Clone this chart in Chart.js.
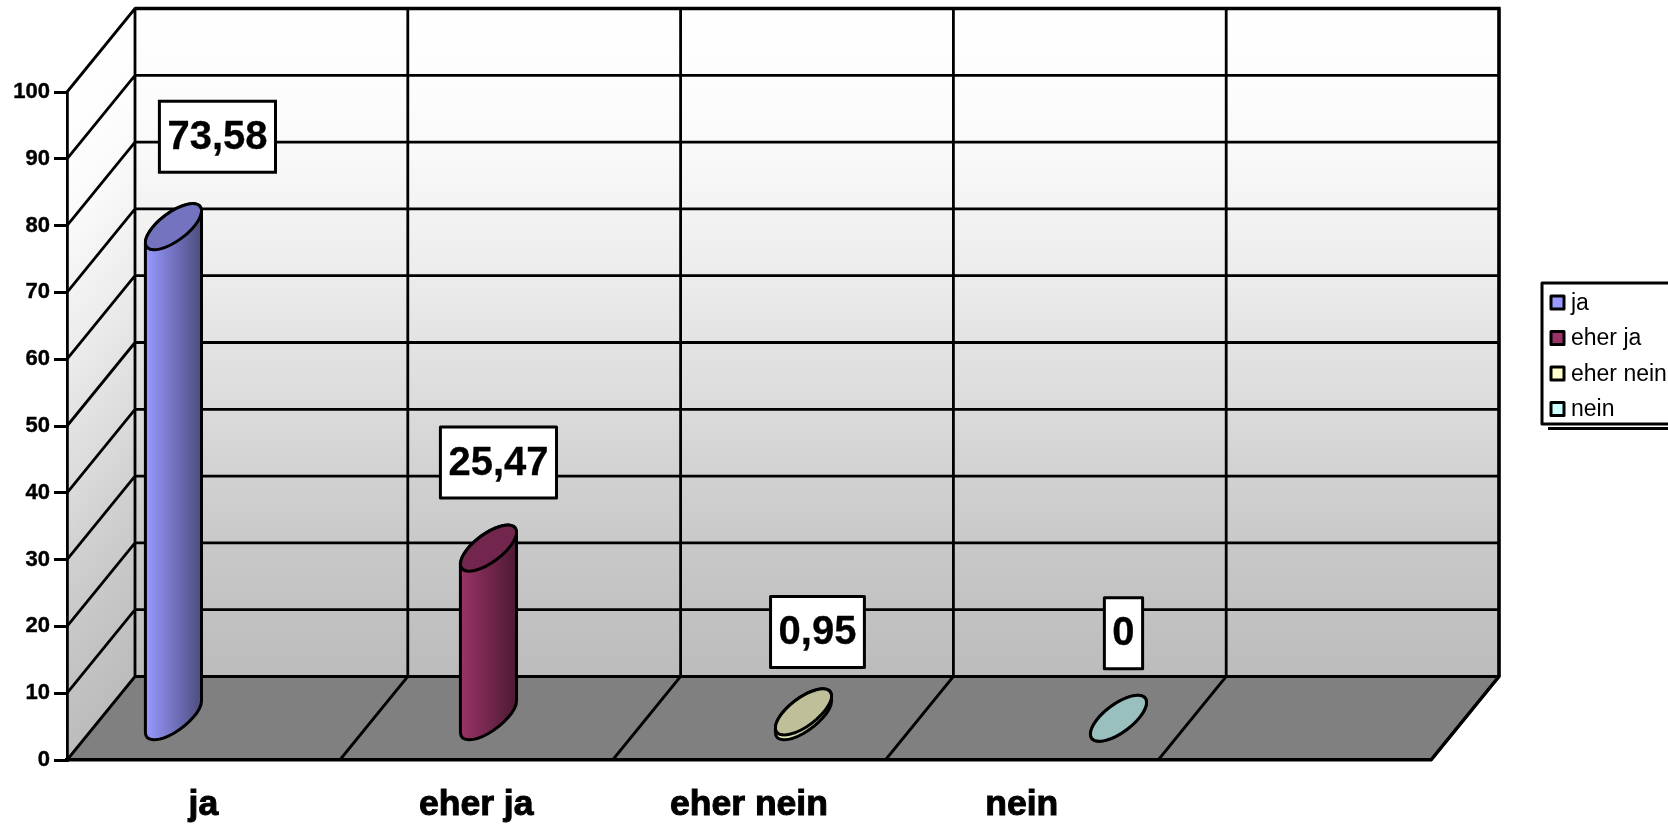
<!DOCTYPE html>
<html>
<head>
<meta charset="utf-8">
<style>html,body{margin:0;padding:0;background:#fff;overflow:hidden}canvas{display:block}</style>
<script src="https://cdn.jsdelivr.net/npm/chart.js@4"></script>
</head>
<body>
<canvas id="c" width="1668" height="826"></canvas>
<script>
const categories = ['ja', 'eher ja', 'eher nein', 'nein', ''];
const seriesNames = ['ja', 'eher ja', 'eher nein', 'nein'];
const seriesValues = [73.58, 25.47, 0.95, 0];
const seriesColors = ['#9999ff', '#993366', '#ffffcc', '#ccffff'];
const yTicks = [0, 10, 20, 30, 40, 50, 60, 70, 80, 90, 100];
// wall grey at each tick level, from 100 down to 0
const wallShades = ['#ffffff', '#fdfdfd', '#fafafa', '#f3f3f3', '#ececec', '#e3e3e3', '#dbdbdb', '#d1d1d1', '#c9c9c9', '#c2c2c2', '#bcbcbc'];

const FONT = '"Liberation Sans", Arial, sans-serif';
const DEPTH_X = 68, DEPTH_Y = -83.5;
const ELL_A = 33.5, ELL_B = 14, ELL_PHI = -37 * Math.PI / 180;
const labelOffsets = [[44, -90], [10, -85.6], [14, -80], [5, -85]];

function shade(hex, f) {
  const n = parseInt(hex.slice(1), 16);
  return 'rgb(' + [n >> 16 & 255, n >> 8 & 255, n & 255].map(v => Math.round(v * f)).join(',') + ')';
}
function addShades(g) {
  wallShades.forEach((c, i) => g.addColorStop(i / (wallShades.length - 1), c));
}

const scene = {
  id: 'scene',
  beforeDraw(chart) {
    const { ctx, scales } = chart, xs = scales.x, ys = scales.y;
    const L = xs.left, R = xs.right, B = ys.bottom, T = ys.top;
    const n = categories.length, step = (R - L) / n;
    ctx.save();
    ctx.fillStyle = '#fff';
    ctx.fillRect(0, 0, chart.width, chart.height);
    // back wall
    const g = ctx.createLinearGradient(0, T + DEPTH_Y, 0, B + DEPTH_Y);
    addShades(g);
    ctx.fillStyle = g;
    ctx.fillRect(L + DEPTH_X, T + DEPTH_Y, R - L, B - T);
    // side wall
    const len = Math.hypot(DEPTH_X, DEPTH_Y), nx = -DEPTH_Y / len, ny = DEPTH_X / len;
    const d = (B - T) * ny;
    const g2 = ctx.createLinearGradient(L, T, L + nx * d, T + ny * d);
    addShades(g2);
    ctx.fillStyle = g2;
    ctx.beginPath();
    ctx.moveTo(L, T); ctx.lineTo(L + DEPTH_X, T + DEPTH_Y);
    ctx.lineTo(L + DEPTH_X, B + DEPTH_Y); ctx.lineTo(L, B);
    ctx.closePath(); ctx.fill();
    // floor
    ctx.fillStyle = '#808080';
    ctx.beginPath();
    ctx.moveTo(L, B); ctx.lineTo(L + DEPTH_X, B + DEPTH_Y);
    ctx.lineTo(R + DEPTH_X, B + DEPTH_Y); ctx.lineTo(R, B);
    ctx.closePath(); ctx.fill();
    // grid
    ctx.strokeStyle = '#000'; ctx.lineWidth = 2.8;
    ctx.beginPath();
    yTicks.forEach(v => {
      const y = ys.getPixelForValue(v);
      ctx.moveTo(L, y); ctx.lineTo(L + DEPTH_X, y + DEPTH_Y);
      ctx.lineTo(R + DEPTH_X, y + DEPTH_Y);
    });
    for (let i = 0; i <= n; i++) {
      const x = L + i * step;
      ctx.moveTo(x, B); ctx.lineTo(x + DEPTH_X, B + DEPTH_Y);
      ctx.lineTo(x + DEPTH_X, T + DEPTH_Y);
    }
    ctx.stroke();
    ctx.lineWidth = 3.4;
    ctx.beginPath();
    ctx.moveTo(L + DEPTH_X, T + DEPTH_Y); ctx.lineTo(R + DEPTH_X, T + DEPTH_Y);
    ctx.lineTo(R + DEPTH_X, B + DEPTH_Y); ctx.lineTo(R, B);
    ctx.stroke();
    ctx.restore();
  },
  beforeDatasetDraw(chart, args) {
    const { ctx } = chart;
    const el = args.meta.data[0];
    const col = chart.data.datasets[args.index].backgroundColor;
    const cx = el.x + DEPTH_X / 2, top = el.y + DEPTH_Y / 2, base = el.base + DEPTH_Y / 2, w = el.width;
    const t0 = Math.atan(-(ELL_B / ELL_A) * Math.tan(ELL_PHI));
    ctx.save();
    const g = ctx.createLinearGradient(cx - w / 2, 0, cx + w / 2, 0);
    g.addColorStop(0, col); g.addColorStop(1, shade(col, 0.5));
    ctx.lineWidth = 3; ctx.strokeStyle = '#000'; ctx.lineJoin = 'round';
    ctx.beginPath();
    ctx.ellipse(cx, base, ELL_A, ELL_B, ELL_PHI, t0, t0 + Math.PI);
    ctx.ellipse(cx, top, ELL_A, ELL_B, ELL_PHI, t0 + Math.PI, t0 + 2 * Math.PI);
    ctx.closePath();
    ctx.fillStyle = g; ctx.fill(); ctx.stroke();
    ctx.beginPath();
    ctx.ellipse(cx, top, ELL_A, ELL_B, ELL_PHI, 0, 2 * Math.PI);
    ctx.fillStyle = shade(col, 0.75); ctx.fill(); ctx.stroke();
    ctx.restore();
    return false;
  },
  afterDatasetsDraw(chart) {
    const { ctx } = chart;
    ctx.save();
    // value labels
    ctx.font = 'bold 40px ' + FONT;
    ctx.textAlign = 'center'; ctx.textBaseline = 'middle';
    chart.data.datasets.forEach((ds, i) => {
      const el = chart.getDatasetMeta(i).data[0];
      const txt = String(seriesValues[i]).replace('.', ',');
      const cx = el.x + DEPTH_X / 2 + labelOffsets[i][0];
      const cy = el.y + DEPTH_Y / 2 + labelOffsets[i][1];
      const bw = ctx.measureText(txt).width + 16, bh = 71;
      ctx.fillStyle = '#fff'; ctx.strokeStyle = '#000'; ctx.lineWidth = 3;
      ctx.fillRect(cx - bw / 2, cy - bh / 2, bw, bh);
      ctx.strokeRect(cx - bw / 2, cy - bh / 2, bw, bh);
      ctx.fillStyle = '#000';
      ctx.lineWidth = 0.3; ctx.lineJoin = 'round';
      ctx.fillText(txt, cx, cy + 1);
      ctx.strokeText(txt, cx, cy + 1);
    });
    // legend, running off the right edge as in the reference
    const lx = 1542, ly = 283, lb = 424;
    ctx.fillStyle = '#fff'; ctx.strokeStyle = '#000'; ctx.lineWidth = 3;
    ctx.fillRect(lx, ly, chart.width - lx + 10, lb - ly);
    ctx.strokeRect(lx, ly, chart.width - lx + 10, lb - ly);
    ctx.beginPath(); ctx.moveTo(lx + 6, lb + 4.5); ctx.lineTo(chart.width, lb + 4.5); ctx.stroke();
    ctx.font = '23px ' + FONT;
    ctx.textAlign = 'left'; ctx.textBaseline = 'middle';
    chart.data.datasets.forEach((ds, i) => {
      const y = 302.5 + i * 35.5;
      ctx.fillStyle = ds.backgroundColor;
      ctx.lineWidth = 3;
      ctx.fillRect(lx + 9, y - 6.5, 13, 13);
      ctx.strokeRect(lx + 9, y - 6.5, 13, 13);
      ctx.fillStyle = '#000';
      ctx.fillText(ds.label, lx + 29, y + 1);
    });
    ctx.restore();
  }
};

new Chart(document.getElementById('c'), {
  type: 'bar',
  data: {
    labels: categories,
    datasets: seriesNames.map((name, i) => ({
      label: name,
      data: [{ x: i, y: seriesValues[i] }],
      backgroundColor: seriesColors[i],
      xAxisID: 'xb',
      yAxisID: 'y',
      barThickness: 55,
      grouped: false,
      clip: false
    }))
  },
  options: {
    responsive: false,
    animation: false,
    devicePixelRatio: 1,
    layout: { padding: { top: 92, right: 237, left: 0, bottom: 0 } },
    plugins: { legend: { display: false }, tooltip: { enabled: false } },
    scales: {
      x: {
        type: 'category',
        offset: true,
        grid: { display: false },
        border: { display: true, color: '#000', width: 3.6 },
        ticks: { color: '#000', font: { family: FONT, size: 35.5, weight: 'bold' }, padding: 16, autoSkip: false, maxRotation: 0, textStrokeColor: '#000', textStrokeWidth: 1 },
        afterFit(s) { s.height = 66; }
      },
      xb: { type: 'linear', axis: 'x', display: false, offset: false, min: -0.23, max: 4.1 },
      y: {
        type: 'linear',
        min: 0, max: 100,
        grid: { drawOnChartArea: false, drawTicks: true, tickLength: 13, color: '#000', lineWidth: 3 },
        border: { display: true, color: '#000', width: 2.8 },
        ticks: { stepSize: 10, color: '#000', padding: 4, font: { family: FONT, size: 22, weight: 'bold' }, textStrokeColor: '#000', textStrokeWidth: 0.4 },
        afterFit(s) { s.width = 67; }
      }
    }
  },
  plugins: [scene]
});
</script>
</body>
</html>
